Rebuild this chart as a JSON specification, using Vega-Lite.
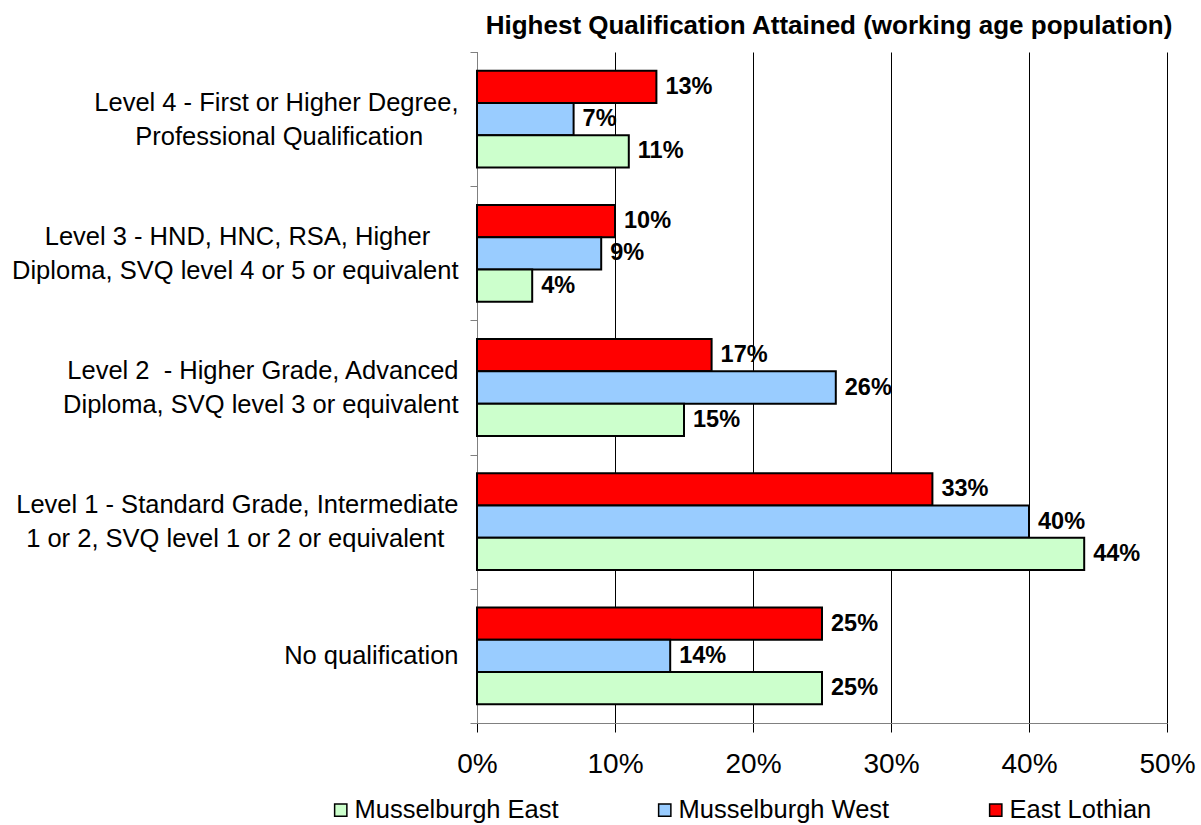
{
  "$schema": "https://vega.github.io/schema/vega-lite/v6.json",
  "autosize": {"type": "none"},
  "padding": {"left": 477, "top": 52, "right": 34, "bottom": 102},
  "width": 690,
  "height": 671,
  "background": "white",
  "title": {
    "text": "Highest Qualification Attained (working age population)",
    "font": "Liberation Sans",
    "fontSize": 26,
    "fontWeight": "bold",
    "color": "black",
    "anchor": "middle",
    "dx": 7,
    "offset": 1
  },
  "config": {
    "view": {"stroke": null},
    "font": "Liberation Sans"
  },
  "data": {
    "values": [
      {"level": "Level 4 - First or Higher Degree,|Professional Qualification\u00a0\u00a0\u00a0\u00a0\u00a0\u200b", "area": "East Lothian", "value": 0.13},
      {"level": "Level 4 - First or Higher Degree,|Professional Qualification\u00a0\u00a0\u00a0\u00a0\u00a0\u200b", "area": "Musselburgh West", "value": 0.07},
      {"level": "Level 4 - First or Higher Degree,|Professional Qualification\u00a0\u00a0\u00a0\u00a0\u00a0\u200b", "area": "Musselburgh East", "value": 0.11},
      {"level": "Level 3 - HND, HNC, RSA, Higher\u00a0\u00a0\u00a0\u00a0\u200b|Diploma, SVQ level 4 or 5 or equivalent", "area": "East Lothian", "value": 0.10},
      {"level": "Level 3 - HND, HNC, RSA, Higher\u00a0\u00a0\u00a0\u00a0\u200b|Diploma, SVQ level 4 or 5 or equivalent", "area": "Musselburgh West", "value": 0.09},
      {"level": "Level 3 - HND, HNC, RSA, Higher\u00a0\u00a0\u00a0\u00a0\u200b|Diploma, SVQ level 4 or 5 or equivalent", "area": "Musselburgh East", "value": 0.04},
      {"level": "Level 2\u00a0 - Higher Grade, Advanced|Diploma, SVQ level 3 or equivalent", "area": "East Lothian", "value": 0.17},
      {"level": "Level 2\u00a0 - Higher Grade, Advanced|Diploma, SVQ level 3 or equivalent", "area": "Musselburgh West", "value": 0.26},
      {"level": "Level 2\u00a0 - Higher Grade, Advanced|Diploma, SVQ level 3 or equivalent", "area": "Musselburgh East", "value": 0.15},
      {"level": "Level 1 - Standard Grade, Intermediate|1 or 2, SVQ level 1 or 2 or equivalent\u00a0\u00a0\u200b", "area": "East Lothian", "value": 0.33},
      {"level": "Level 1 - Standard Grade, Intermediate|1 or 2, SVQ level 1 or 2 or equivalent\u00a0\u00a0\u200b", "area": "Musselburgh West", "value": 0.40},
      {"level": "Level 1 - Standard Grade, Intermediate|1 or 2, SVQ level 1 or 2 or equivalent\u00a0\u00a0\u200b", "area": "Musselburgh East", "value": 0.44},
      {"level": "No qualification", "area": "East Lothian", "value": 0.25},
      {"level": "No qualification", "area": "Musselburgh West", "value": 0.14},
      {"level": "No qualification", "area": "Musselburgh East", "value": 0.25}
    ]
  },
  "encoding": {
    "y": {
      "field": "level",
      "type": "nominal",
      "sort": [
        "Level 4 - First or Higher Degree,|Professional Qualification\u00a0\u00a0\u00a0\u00a0\u00a0\u200b",
        "Level 3 - HND, HNC, RSA, Higher\u00a0\u00a0\u00a0\u00a0\u200b|Diploma, SVQ level 4 or 5 or equivalent",
        "Level 2\u00a0 - Higher Grade, Advanced|Diploma, SVQ level 3 or equivalent",
        "Level 1 - Standard Grade, Intermediate|1 or 2, SVQ level 1 or 2 or equivalent\u00a0\u00a0\u200b",
        "No qualification"
      ],
      "scale": {"paddingInner": 0, "paddingOuter": 0},
      "axis": {
        "title": null,
        "tickBand": "extent",
        "tickSize": 7,
        "tickColor": "#808080",
        "domainColor": "#808080",
        "labelFont": "Liberation Sans",
        "labelFontSize": 25.5,
        "labelColor": "black",
        "labelLineHeight": 34,
        "labelLimit": 600,
        "labelAlign": "right",
        "labelExpr": "split(datum.label, '|')",
        "labelPadding": 12,
        "labelOffset": {"condition": {"test": "datum.value != 'No qualification'", "value": -17}, "value": 0}
      }
    },
    "yOffset": {
      "field": "area",
      "type": "nominal",
      "sort": ["East Lothian", "Musselburgh West", "Musselburgh East"],
      "scale": {"paddingInner": 0, "paddingOuter": 0.58}
    },
    "x": {
      "field": "value",
      "type": "quantitative",
      "scale": {"domain": [0, 0.5], "nice": false},
      "axis": {
        "title": null,
        "format": ".0%",
        "values": [0, 0.1, 0.2, 0.3, 0.4, 0.5],
        "grid": true,
        "gridColor": "black",
        "gridWidth": 1,
        "gridOpacity": 1,
        "tickColor": "black",
        "tickSize": 9,
        "domainColor": "#808080",
        "labelFont": "Liberation Sans",
        "labelFontSize": 28,
        "labelColor": "black",
        "labelPadding": 18,
        "labelFlush": false
      }
    }
  },
  "layer": [
    {
      "mark": {"type": "bar", "stroke": "black", "strokeWidth": 2},
      "encoding": {
        "color": {
          "field": "area",
          "type": "nominal",
          "scale": {
            "domain": ["Musselburgh East", "Musselburgh West", "East Lothian"],
            "range": ["#CCFFCC", "#99CCFF", "#FF0000"]
          },
          "legend": {
            "title": null,
            "orient": "none",
            "direction": "horizontal",
            "legendX": -149,
            "legendY": 745,
            "symbolType": "square",
            "symbolSize": 150,
            "symbolStrokeColor": "black",
            "symbolStrokeWidth": 1.5,
            "symbolOpacity": 1,
            "labelFont": "Liberation Sans",
            "labelFontSize": 25.5,
            "labelColor": "black",
            "labelLimit": 400,
            "gridAlign": "each",
            "columnPadding": 93,
            "labelOffset": 1
          }
        }
      }
    },
    {
      "mark": {
        "type": "text",
        "align": "left",
        "baseline": "middle",
        "dx": 9,
        "font": "Liberation Sans",
        "fontSize": 23.5,
        "fontWeight": "bold",
        "color": "black"
      },
      "encoding": {
        "text": {"field": "value", "type": "quantitative", "format": ".0%"}
      }
    }
  ]
}
